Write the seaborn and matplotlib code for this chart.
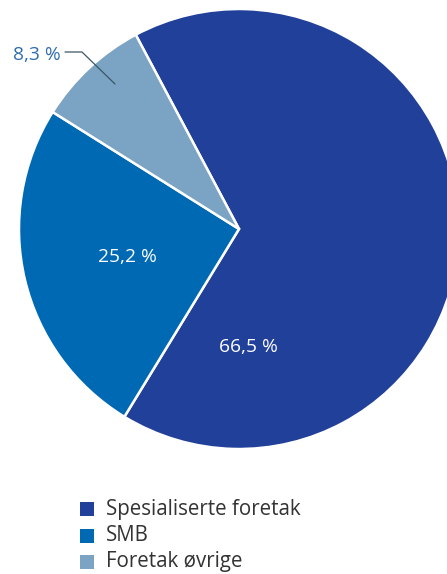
import matplotlib
matplotlib.use("Agg")
import matplotlib.pyplot as plt
import seaborn as sns

# Share of the total by type of enterprise
categories = ["Spesialiserte foretak", "SMB", "Foretak øvrige"]
shares = [66.5, 25.2, 8.3]
value_labels = ["66,5 %", "25,2 %", "8,3 %"]
colors = ["#21409A", "#0069B4", "#7BA3C4"]

sns.set_theme(style="white")
plt.rcParams["font.family"] = ["Open Sans", "DejaVu Sans"]

W, H = 447, 574
fig = plt.figure(figsize=(W / 100, H / 100), dpi=100)
ax = fig.add_axes([0, 0, 1, 1])

cx, cy, r = 239, H - 229, 220
palette = sns.color_palette(colors)
wedges, _ = ax.pie(
    shares,
    colors=palette,
    startangle=118,
    counterclock=False,
    center=(cx, cy),
    radius=r,
    frame=True,
    wedgeprops=dict(edgecolor="white", linewidth=1.8),
)
ax.set_xlim(0, W)
ax.set_ylim(0, H)
ax.set_aspect("equal")
ax.axis("off")

txt = dict(fontsize=13.8, ha="center", va="center")
ax.text(248, H - 347, value_labels[0], color="white", **txt)
ax.text(127, H - 257, value_labels[1], color="white", **txt)
ax.text(61, H - 55, value_labels[2], color="#2F6DAE", fontsize=13.8, ha="right", va="center")
ax.plot([65, 82, 115], [H - 52, H - 52, H - 84], color="#3B5766", linewidth=0.9)

# Legend
for i, (name, col) in enumerate(zip(categories, colors)):
    y = H - (509 + i * 26.5)
    ax.add_patch(plt.Rectangle((80, y - 7), 14, 14, color=col, lw=0))
    ax.text(106, y, name, color="#333333", fontsize=14.8, ha="left", va="center")

fig.savefig("out.png", dpi=100)
